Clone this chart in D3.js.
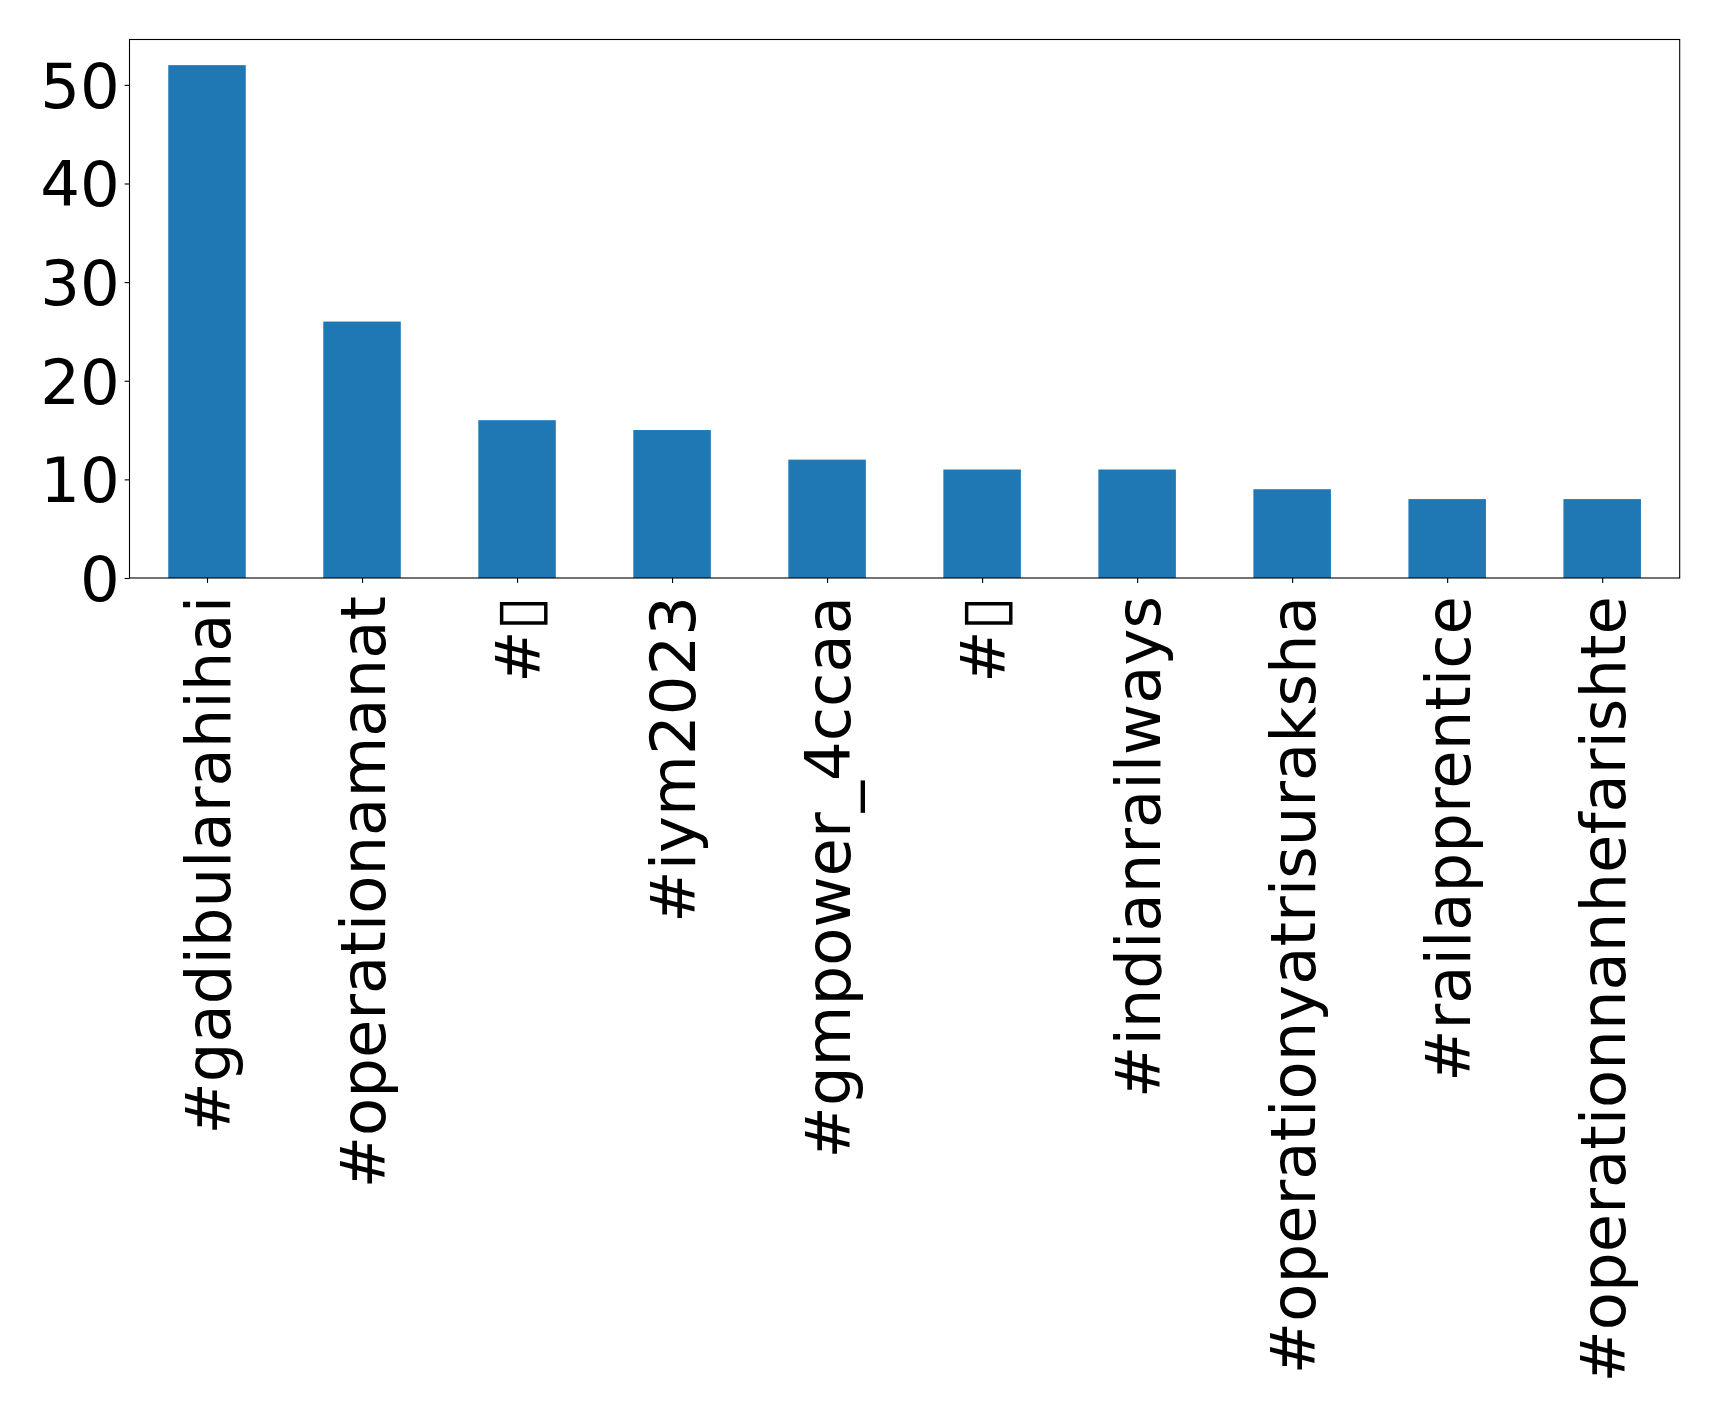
<!DOCTYPE html>
<html>
<head>
<meta charset="utf-8">
<script src="https://cdn.jsdelivr.net/npm/d3@7"></script>
<style>
  html, body { margin: 0; padding: 0; background: #fff; }
  svg { display: block; }
  text { font-family: "DejaVu Sans", sans-serif; fill: #000; }
</style>
</head>
<body>
<script>
const categories = ["#gadibularahihai", "#operationamanat", "#\u25AF", "#iym2023", "#gmpower_4ccaa",
                    "#\u25AF", "#indianrailways", "#operationyatrisuraksha", "#railapprentice", "#operationnanhefarishte"];
const counts = [52, 26, 16, 15, 12, 11, 11, 9, 8, 8];
const yTicks = [0, 10, 20, 30, 40, 50];

const W = 1719, H = 1414;
const mLeft = 129.5, mRight = 1679.7, mTop = 39.5, mBottom = 578;
const fontSize = 62.5;

const svg = d3.select("body").append("svg").attr("width", W).attr("height", H);

const x = d3.scaleLinear().domain([-0.5, categories.length - 0.5]).range([mLeft, mRight]);
const y = d3.scaleLinear().domain([0, d3.max(counts) * 1.05]).range([mBottom, mTop]);

// bars
svg.append("g").selectAll("rect").data(counts).join("rect")
  .attr("x", (d, i) => x(i - 0.25))
  .attr("width", (d, i) => x(i + 0.25) - x(i - 0.25))
  .attr("y", d => y(d))
  .attr("height", d => y(0) - y(d))
  .attr("fill", "#1f77b4");

// y axis
const yAxis = d3.axisLeft(y).tickValues(yTicks).tickFormat(d3.format("d")).tickSize(4.9).tickPadding(4.9);
const gy = svg.append("g").attr("transform", `translate(${mLeft},0)`).call(yAxis);
gy.select(".domain").remove();
gy.selectAll(".tick line").attr("stroke", "#000").attr("stroke-width", 1.1);
gy.selectAll(".tick text").attr("font-size", fontSize).attr("font-family", "DejaVu Sans").attr("dy", "0.36em");

// x axis
const xAxis = d3.axisBottom(x).tickValues(d3.range(categories.length)).tickFormat(i => categories[i]).tickSize(4.9).tickPadding(0);
const gx = svg.append("g").attr("transform", `translate(0,${mBottom})`).call(xAxis);
gx.select(".domain").remove();
gx.selectAll(".tick line").attr("stroke", "#000").attr("stroke-width", 1.1);
gx.selectAll(".tick text")
  .attr("font-size", fontSize).attr("font-family", "DejaVu Sans")
  .attr("text-anchor", "end")
  .attr("transform", "translate(0,18) rotate(-90)")
  .attr("x", 0).attr("y", 0).attr("dy", "0.36em");

// frame
svg.append("rect").attr("x", mLeft).attr("y", mTop).attr("width", mRight - mLeft).attr("height", mBottom - mTop)
  .attr("fill", "none").attr("stroke", "#000").attr("stroke-width", 1.1);
</script>
</body>
</html>
